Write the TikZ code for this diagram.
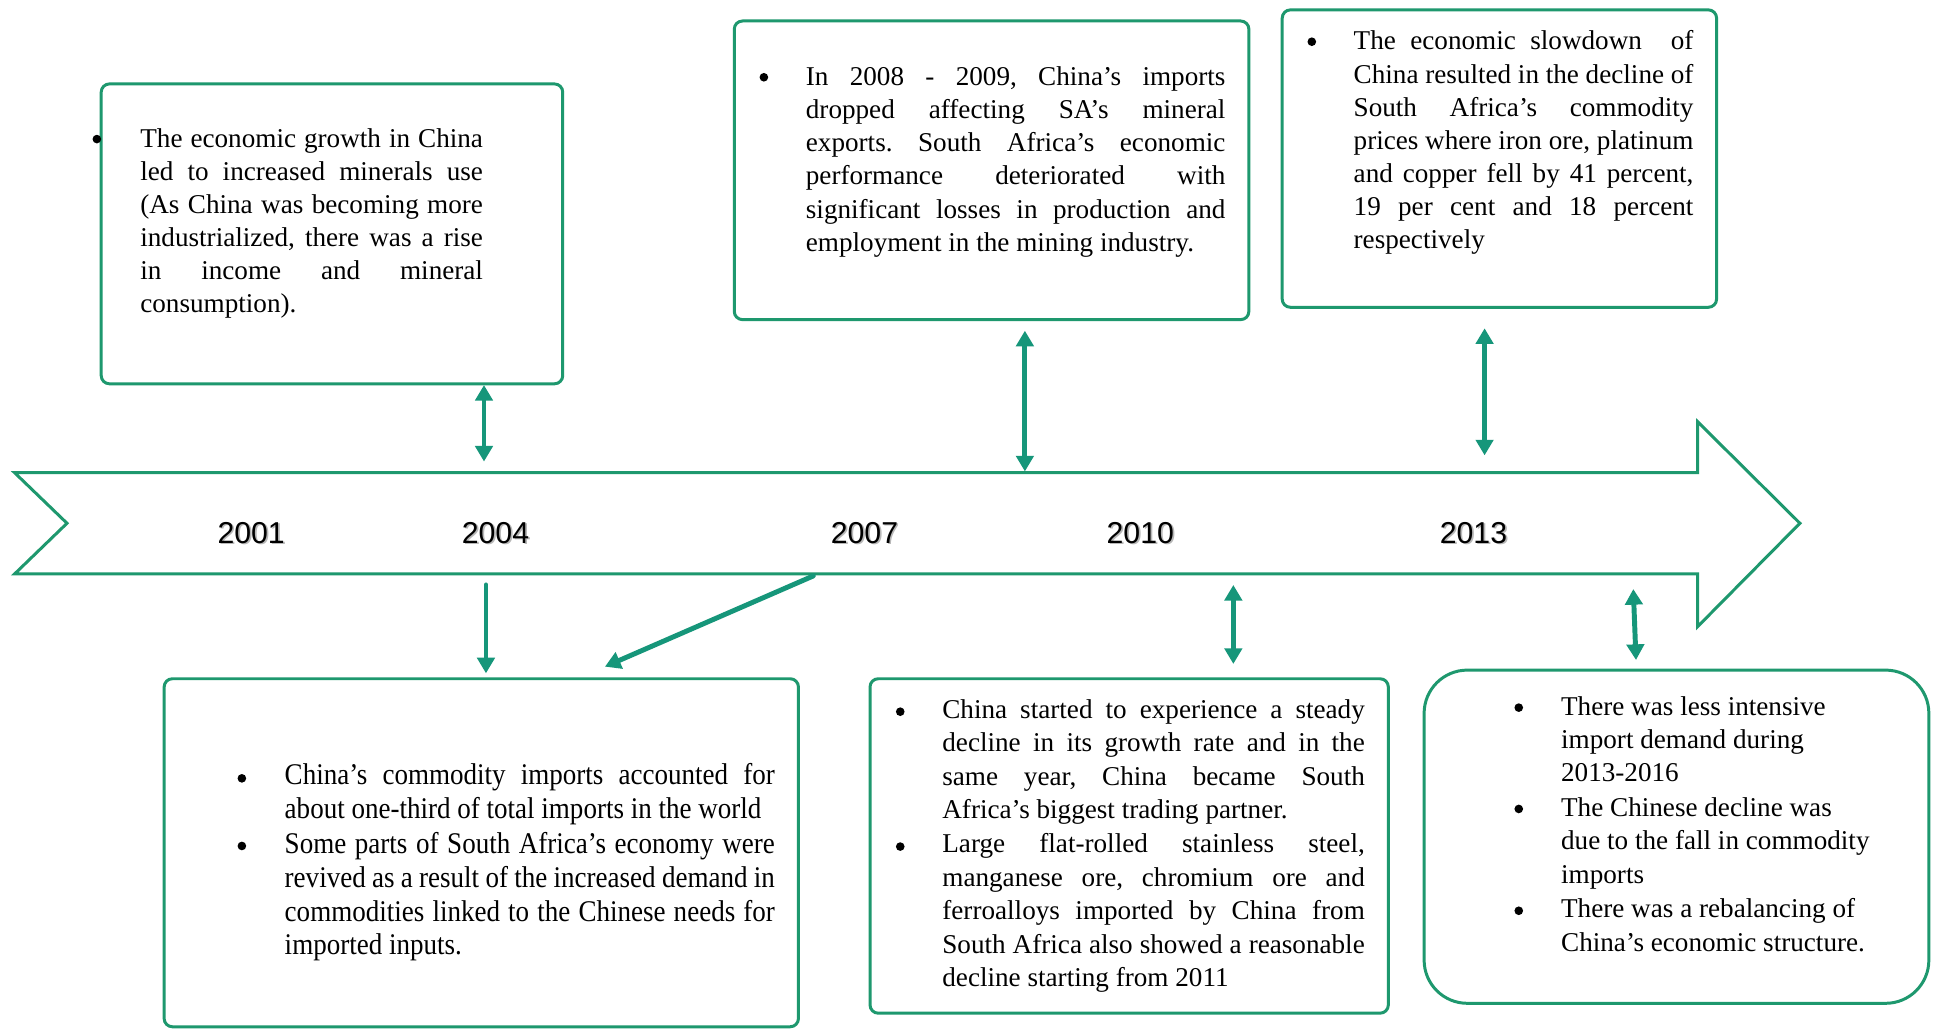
\documentclass[tikz,border=0pt]{standalone}
\usepackage{fontspec}
\setmainfont{Liberation Serif}
\newfontfamily\narrowserif[FakeStretch=0.9]{Liberation Serif}
\newfontfamily\yearfont{Liberation Sans}
\usetikzlibrary{arrows.meta,fit}
\definecolor{boxgreen}{RGB}{30,152,110}
\definecolor{arrowteal}{RGB}{22,150,122}
% normal stretchable word spaces inside a node
\newcommand{\wordspaces}{\spaceskip=0pt\xspaceskip=0pt\frenchspacing\relax}
% one fully justified line of a text block
\newcommand{\jl}[1]{\makebox[\hsize][s]{\wordspaces #1}}

\begin{document}
\begin{tikzpicture}[x=0.6pt,y=-0.6pt,
  box/.style={draw=boxgreen, line width=1.45pt, rounded corners=4pt, inner sep=0pt},
  bodytext/.style={anchor=base west, inner sep=0pt, align=left, font=\fontsize{13.2}{16.1}\selectfont},
  dot/.style={circle, fill=black, inner sep=0pt, minimum size=4.2pt},
  year/.style={anchor=base, inner sep=0pt, font=\yearfont\fontsize{14.7}{18}\selectfont},
  yearshadow/.style={year, text=black!28},
  link/.style={draw=arrowteal, line width=2.4pt, >={Triangle[width=8.4pt,length=7.6pt]}},
]
\fill[white] (0,0) rectangle (1568,834);
\useasboundingbox (0,0) rectangle (1568,834);

% timeline arrow with notched tail
\draw[draw=boxgreen, line width=1.45pt, fill=white, line join=miter]
  (11.8,383) -- (1375.6,383) -- (1375.6,341.7) -- (1458.5,424) -- (1375.6,507.8)
  -- (1375.6,465.1) -- (11.8,465.1) -- (54.3,424) -- cycle;

% year labels with soft shadow
\foreach \yr/\xx in {2001/203.5, 2004/401.5, 2007/700.5, 2010/924, 2013/1194}{
  \node[yearshadow] (ys\yr) at (\xx+1.4,441.6) {\yr};
  \node[year] (y\yr) at (\xx,440.2) {\yr};
}

% event boxes
\node[box, fit={(82,68) (456,311)}] (b1) {};
\node[box, fit={(595,17) (1012,259)}] (b2) {};
\node[box, fit={(1039,8) (1391,249)}] (b3) {};
\node[box, fit={(133,550) (647,832)}] (b4) {};
\node[box, fit={(705,550) (1125,821)}] (b5) {};
\node[box, rounded corners=21pt, fit={(1154,543) (1563,813)}] (b6) {};

% list markers
\node[dot] (d1) at (78.5,112.7) {};
\node[dot] (d2) at (619,62.6) {};
\node[dot] (d3) at (1063,33.8) {};
\node[dot] (d4a) at (196,630.7) {};
\node[dot] (d4b) at (196,685.5) {};
\node[dot] (d5a) at (729.5,576.7) {};
\node[dot] (d5b) at (729.5,686) {};
\node[dot] (d6a) at (1230.7,573.4) {};
\node[dot] (d6b) at (1230.7,655.5) {};
\node[dot] (d6c) at (1230.7,738) {};

% box 1
\node[bodytext, text width=166.6pt] (t1) at (113.4,119.4) {\wordspaces
\jl{The economic growth in China}\\
\jl{led to increased minerals use}\\
\jl{(As China was becoming more}\\
\jl{industrialized, there was a rise}\\
\jl{in income and mineral}\\
consumption).};

% box 2
\node[bodytext, text width=204pt] (t2) at (652.7,69.4) {\wordspaces
\jl{In 2008 - 2009, China’s imports}\\
\jl{dropped affecting SA’s mineral}\\
\jl{exports. South Africa’s economic}\\
\jl{performance deteriorated with}\\
\jl{significant losses in production and}\\
employment in the mining industry.};

% box 3
\node[bodytext, text width=165.2pt] (t3) at (1096.6,40.5) {\wordspaces
\jl{The economic slowdown\ \ of}\\
\jl{China resulted in the decline of}\\
\jl{South Africa’s commodity}\\
\jl{prices where iron ore, platinum}\\
\jl{and copper fell by 41 percent,}\\
\jl{19 per cent and 18 percent}\\
respectively};

% box 4
\node[bodytext, text width=238.3pt, font=\narrowserif\fontsize{14.6}{16.4}\selectfont] (t4) at (230.4,636) {\wordspaces
\jl{China’s commodity imports accounted for}\\
about one-third of total imports in the world\\[0.7pt]
\jl{Some parts of South Africa’s economy were}\\
\jl{revived as a result of the increased demand in}\\
\jl{commodities linked to the Chinese needs for}\\
imported inputs.};

% box 5
\node[bodytext, text width=205.4pt, font=\fontsize{13.2}{16.25}\selectfont] (t5) at (763.3,582) {\wordspaces
\jl{China started to experience a steady}\\
\jl{decline in its growth rate and in the}\\
\jl{same year, China became South}\\
Africa’s biggest trading partner.\\[0.5pt]
\jl{Large flat-rolled stainless steel,}\\
\jl{manganese ore, chromium ore and}\\
\jl{ferroalloys imported by China from}\\
\jl{South Africa also showed a reasonable}\\
decline starting from 2011};

% box 6
\node[bodytext, text width=175pt, font=\fontsize{13.2}{16.2}\selectfont] (t6) at (1264.7,579.4) {\wordspaces
There was less intensive\\
import demand during\\
2013-2016\\[0.7pt]
The Chinese decline was\\
due to the fall in commodity\\
imports\\[0.7pt]
There was a rebalancing of\\
China’s economic structure.};

% connector end points
\coordinate (c1a) at (392.2,312);   \coordinate (c1b) at (392.2,374);
\coordinate (c2a) at (830.5,268);   \coordinate (c2b) at (830.5,382);
\coordinate (c3a) at (1203,266);    \coordinate (c3b) at (1203,369);
\coordinate (c4a) at (393.8,474);   \coordinate (c4b) at (393.8,545.6);
\coordinate (c5a) at (659,466.7);   \coordinate (c5b) at (490.2,540.2);
\coordinate (c6a) at (999.4,474);   \coordinate (c6b) at (999.4,538);
\coordinate (c7a) at (1323.5,477.3);\coordinate (c7b) at (1325.7,534.8);

% connectors between boxes and the timeline
\draw[link,<->] (c1a) -- (c1b);
\draw[link,<->] (c2a) -- (c2b);
\draw[link,<->] (c3a) -- (c3b);
\draw[link,->,line cap=round] (c4a) -- (c4b);
\draw[link,->,line cap=round] (c5a) -- (c5b);
\draw[link,<->] (c6a) -- (c6b);
\draw[link,<->] (c7a) -- (c7b);
\end{tikzpicture}
\end{document}
